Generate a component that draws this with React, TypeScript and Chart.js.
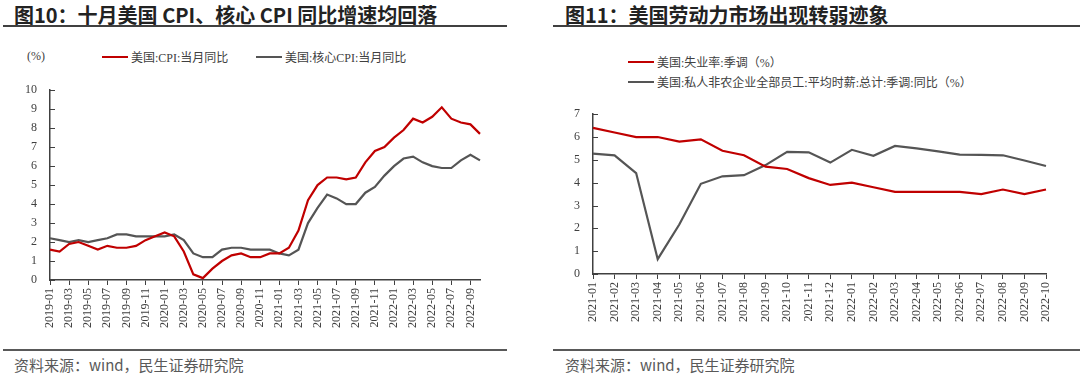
import React, { useEffect, useRef } from "react";
import { Chart, registerables } from "chart.js";
Chart.register(...registerables);

// ---------- Data: Figure 10 ----------
const cpiMonths = [
  "2019-01","2019-02","2019-03","2019-04","2019-05","2019-06","2019-07","2019-08","2019-09","2019-10","2019-11","2019-12",
  "2020-01","2020-02","2020-03","2020-04","2020-05","2020-06","2020-07","2020-08","2020-09","2020-10","2020-11","2020-12",
  "2021-01","2021-02","2021-03","2021-04","2021-05","2021-06","2021-07","2021-08","2021-09","2021-10","2021-11","2021-12",
  "2022-01","2022-02","2022-03","2022-04","2022-05","2022-06","2022-07","2022-08","2022-09","2022-10",
];
const cpiYoY = [
  1.6, 1.5, 1.9, 2.0, 1.8, 1.6, 1.8, 1.7, 1.7, 1.8, 2.1, 2.3,
  2.5, 2.3, 1.5, 0.3, 0.1, 0.6, 1.0, 1.3, 1.4, 1.2, 1.2, 1.4,
  1.4, 1.7, 2.6, 4.2, 5.0, 5.4, 5.4, 5.3, 5.4, 6.2, 6.8, 7.0,
  7.5, 7.9, 8.5, 8.3, 8.6, 9.1, 8.5, 8.3, 8.2, 7.7,
];
const coreCpiYoY = [
  2.2, 2.1, 2.0, 2.1, 2.0, 2.1, 2.2, 2.4, 2.4, 2.3, 2.3, 2.3,
  2.3, 2.4, 2.1, 1.4, 1.2, 1.2, 1.6, 1.7, 1.7, 1.6, 1.6, 1.6,
  1.4, 1.3, 1.6, 3.0, 3.8, 4.5, 4.3, 4.0, 4.0, 4.6, 4.9, 5.5,
  6.0, 6.4, 6.5, 6.2, 6.0, 5.9, 5.9, 6.3, 6.6, 6.3,
];
const cpiSeriesNames = ["美国:CPI:当月同比", "美国:核心CPI:当月同比"];

// ---------- Data: Figure 11 ----------
const laborMonths = [
  "2021-01","2021-02","2021-03","2021-04","2021-05","2021-06","2021-07","2021-08","2021-09","2021-10","2021-11","2021-12",
  "2022-01","2022-02","2022-03","2022-04","2022-05","2022-06","2022-07","2022-08","2022-09","2022-10",
];
const unemploymentRate = [
  6.4, 6.2, 6.0, 6.0, 5.8, 5.9, 5.4, 5.2, 4.7, 4.6, 4.2, 3.9,
  4.0, 3.8, 3.6, 3.6, 3.6, 3.6, 3.5, 3.7, 3.5, 3.7,
];
const hourlyEarningsYoY = [
  5.27, 5.2, 4.42, 0.65, 2.17, 3.95, 4.28, 4.33, 4.77, 5.35, 5.33, 4.88,
  5.44, 5.18, 5.61, 5.5, 5.37, 5.23, 5.22, 5.2, 4.97, 4.73,
];
const laborSeriesNames = [
  "美国:失业率:季调（%）",
  "美国:私人非农企业全部员工:平均时薪:总计:季调:同比（%）",
];

const RED = "#C00000";
const GRAY = "#555555";
const AXIS = "#404040";
const SERIF = "'Liberation Serif', 'DejaVu Serif', 'Times New Roman', serif";
const TICK_FONT = { family: SERIF, size: 12 };
const LEGEND_FONT = "'Liberation Serif', 'DejaVu Serif', 'Noto Sans CJK SC', serif";
const TITLE_FONT = "'Noto Sans CJK SC', sans-serif";

const inwardTicks = {
  id: "inwardTicks",
  afterDatasetsDraw(chart: any) {
    const y = chart.scales.y;
    const ctx = chart.ctx;
    const left = chart.chartArea.left;
    ctx.save();
    ctx.strokeStyle = AXIS;
    ctx.lineWidth = 1;
    y.ticks.forEach((_t: any, i: number) => {
      const py = Math.round(y.getPixelForTick(i)) + 0.5;
      ctx.beginPath();
      ctx.moveTo(left, py);
      ctx.lineTo(left + 5, py);
      ctx.stroke();
    });
    ctx.restore();
  },
};

function makeConfig(
  labels: string[],
  series: { name: string; data: number[]; color: string }[],
  yMax: number,
  everyOther: boolean,
  padding: { left: number; right: number; top: number; bottom: number },
  yWidth: number,
  xHeight: number
): any {
  return {
    type: "line",
    data: {
      labels,
      datasets: series.map((s) => ({
        label: s.name,
        data: s.data,
        borderColor: s.color,
        backgroundColor: s.color,
        borderWidth: 2.2,
        pointRadius: 0,
        tension: 0,
        fill: false,
      })),
    },
    options: {
      responsive: false,
      animation: false,
      layout: { padding },
      plugins: { legend: { display: false }, tooltip: { enabled: false } },
      scales: {
        x: {
          type: "category",
          offset: false,
          afterFit: (s: any) => { s.height = xHeight; },
          grid: {
            display: true,
            drawOnChartArea: false,
            drawTicks: true,
            tickLength: 5,
            tickColor: AXIS,
          },
          border: { display: true, color: AXIS, width: 1.5 },
          ticks: {
            autoSkip: false,
            minRotation: 90,
            maxRotation: 90,
            padding: 3,
            color: "#404040",
            font: TICK_FONT,
            callback: function (this: any, _v: any, i: number) {
              if (everyOther && i % 2 === 1) return null;
              return labels[i];
            },
          },
        },
        y: {
          min: 0,
          max: yMax,
          afterFit: (s: any) => { s.width = yWidth; },
          grid: { display: true, drawOnChartArea: false, drawTicks: false },
          border: { display: true, color: AXIS, width: 1.5 },
          ticks: { stepSize: 1, padding: 13, color: "#404040", font: TICK_FONT },
        },
      },
    },
    plugins: [inwardTicks],
  };
}

function ChartCanvas({ config, width, height }: { config: any; width: number; height: number }) {
  const ref = useRef<HTMLCanvasElement | null>(null);
  useEffect(() => {
    if (!ref.current) return;
    const chart = new Chart(ref.current, config);
    return () => chart.destroy();
  }, []);
  return <canvas ref={ref} width={width} height={height} style={{ width, height, display: "block" }} />;
}

function LegendItem({ color, text, left, top }: { color: string; text: string; left: number; top: number }) {
  return (
    <div style={{ position: "absolute", left, top, height: 16, display: "flex", alignItems: "center", whiteSpace: "nowrap" }}>
      <div style={{ width: 26, height: 2, background: color, marginRight: 3 }} />
      <span style={{ fontFamily: LEGEND_FONT, fontSize: 12, color: "#404040" }}>{text}</span>
    </div>
  );
}

export default function App() {
  const leftConfig = makeConfig(
    cpiMonths,
    [
      { name: cpiSeriesNames[0], data: cpiYoY, color: RED },
      { name: cpiSeriesNames[1], data: coreCpiYoY, color: GRAY },
    ],
    10,
    true,
    { left: 20, right: 30, top: 12, bottom: 0 },
    30,
    60
  );
  const rightConfig = makeConfig(
    laborMonths,
    [
      { name: laborSeriesNames[0], data: unemploymentRate, color: RED },
      { name: laborSeriesNames[1], data: hourlyEarningsYoY, color: GRAY },
    ],
    7,
    false,
    { left: 23, right: 24, top: 11, bottom: 0 },
    30,
    60
  );

  const title: React.CSSProperties = {
    position: "absolute",
    top: 4,
    fontFamily: TITLE_FONT,
    fontWeight: 700,
    fontSize: 20,
    lineHeight: "22px",
    color: "#222",
    whiteSpace: "nowrap",
  };
  const source: React.CSSProperties = {
    position: "absolute",
    top: 355,
    fontFamily: TITLE_FONT,
    fontSize: 15,
    lineHeight: "20px",
    color: "#595959",
    whiteSpace: "nowrap",
  };

  return (
    <div style={{ position: "absolute", left: 0, top: 0, width: 1080, height: 377, background: "#fff", overflow: "hidden" }}>
      {/* Left panel */}
      <div style={{ ...title, left: 14 }}>图10：十月美国 CPI、核心 CPI 同比增速均回落</div>
      <div style={{ position: "absolute", left: 3, top: 25, width: 504, height: 2, background: "#404040" }} />
      <div style={{ position: "absolute", left: 27, top: 49, fontFamily: LEGEND_FONT, fontSize: 12, color: "#404040" }}>(%)</div>
      <LegendItem color={RED} text={cpiSeriesNames[0]} left={102} top={49} />
      <LegendItem color={GRAY} text={cpiSeriesNames[1]} left={256} top={49} />
      <div style={{ position: "absolute", left: 0, top: 70 }}>
        <ChartCanvas config={leftConfig} width={510} height={270} />
      </div>
      <div style={{ position: "absolute", left: 3, top: 349, width: 504, height: 2, background: "#595959" }} />
      <div style={{ ...source, left: 14 }}>资料来源：wind，民生证券研究院</div>

      {/* Right panel */}
      <div style={{ ...title, left: 565 }}>图11：美国劳动力市场出现转弱迹象</div>
      <div style={{ position: "absolute", left: 553, top: 25, width: 527, height: 2, background: "#404040" }} />
      <LegendItem color={RED} text={laborSeriesNames[0]} left={628} top={54} />
      <LegendItem color={GRAY} text={laborSeriesNames[1]} left={628} top={74} />
      <div style={{ position: "absolute", left: 540, top: 94 }}>
        <ChartCanvas config={rightConfig} width={530} height={240} />
      </div>
      <div style={{ position: "absolute", left: 553, top: 349, width: 527, height: 2, background: "#595959" }} />
      <div style={{ ...source, left: 565 }}>资料来源：wind，民生证券研究院</div>
    </div>
  );
}
